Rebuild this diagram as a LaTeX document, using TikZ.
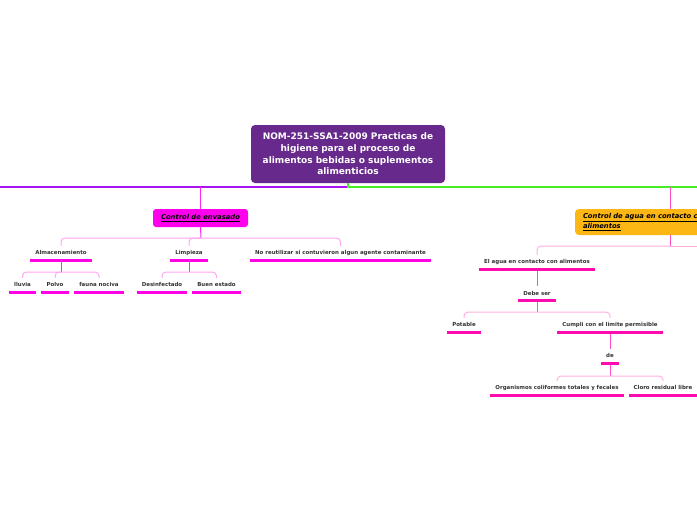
\documentclass[tikz,border=0pt]{standalone}
\usepackage{fontspec}
\setmainfont{DejaVu Sans}
\usetikzlibrary{calc}
\definecolor{rootc}{HTML}{68298C}
\definecolor{violetl}{HTML}{A614F2}
\definecolor{greenl}{HTML}{44EE22}
\definecolor{envc}{HTML}{FF00EE}
\definecolor{aguac}{HTML}{FDB714}
\definecolor{vertL}{HTML}{FF2AF2}
\definecolor{barLc}{HTML}{FFA6F4}
\definecolor{ulLc}{HTML}{FF00E8}
\definecolor{vertR}{HTML}{FF4CC8}
\definecolor{barRc}{HTML}{FFB2E2}
\definecolor{ulRc}{HTML}{FF0AAE}
\definecolor{lblc}{HTML}{333333}
\tikzset{
  rootbox/.style={fill=rootc, rounded corners=4pt, text=white, inner sep=0pt,
    font=\bfseries\fontsize{9}{11.6}\selectfont, align=center,
    minimum width=194pt, minimum height=58pt},
  envbox/.style={fill=envc, rounded corners=3pt, text=black, inner sep=0pt,
    font=\bfseries\itshape\fontsize{6.8}{8.4}\selectfont,
    minimum width=95pt, minimum height=18pt},
  aguabox/.style={fill=aguac, rounded corners=4pt, text=black, inner xsep=8pt, inner ysep=0pt,
    font=\bfseries\itshape\fontsize{6.8}{8.4}\selectfont, align=left,
    text width=174pt, minimum height=26pt},
  lbl/.style={font=\bfseries\fontsize{5.45}{6.5}\selectfont, text=lblc, inner sep=0pt,
    text height=4pt, text depth=1pt, minimum height=14pt},
  topV/.style={draw=violetl, line width=2.4pt},
  topG/.style={draw=greenl, line width=2.4pt},
  vL/.style={draw=vertL, line width=1pt},
  bL/.style={draw=barLc, line width=1pt, rounded corners=4pt},
  uL/.style={draw=ulLc, line width=2.6pt},
  vR/.style={draw=vertR, line width=1pt},
  bR/.style={draw=barRc, line width=1pt, rounded corners=4pt},
  uR/.style={draw=ulRc, line width=2.6pt}
}
\begin{document}
\begin{tikzpicture}[x=1pt,y=-1pt]
\clip (0,0) rectangle (697,520);
\fill[white] (0,0) rectangle (697,520);

% root
\node[rootbox] (root) at (348,154) {NOM-251-SSA1-2009 Practicas de\\higiene para el proceso de\\alimentos bebidas o suplementos\\alimenticios};
\coordinate (Lend) at (0,187);
\coordinate (Rend) at (697,187);
\draw[topV] (Lend) -- (root.south |- Lend);
\draw[topG] (root.south) -- (root.south |- Rend) -- (Rend);

% ---------- left branch ----------
\node[envbox] (env) at (200.5,218) {\underline{Control de envasado}};
\draw[vL] (env.north |- Lend) -- (env.north);
\coordinate (b1) at (201,238);
\draw[vL] (env.south) -- (b1);

\node[lbl, minimum width=62pt] (alm) at (61,253) {Almacenamiento};
\node[lbl, minimum width=38pt] (limp) at (189,253) {Limpieza};
\node[lbl, minimum width=181pt] (noreu) at (340.5,253) {No reutilizar si contuvieron algun agente contaminante};
\draw[bL] (b1) -| (alm.north);
\draw[bL] (b1) -| (limp.north);
\draw[bL] (b1) -| (noreu.north);
\foreach \n in {alm,limp,noreu} \draw[uL] (\n.south west) -- (\n.south east);

\node[lbl, minimum width=27pt] (lluvia) at (22.5,285) {lluvia};
\node[lbl, minimum width=28pt] (polvo) at (55,285) {Polvo};
\node[lbl, minimum width=50pt] (fauna) at (99,285) {fauna nociva};
\coordinate (b2) at (61,272);
\draw[vL] (alm.south) -- (b2);
\draw[bL] (b2) -| (lluvia.north);
\draw[bL] (b2) -| (polvo.north);
\draw[bL] (b2) -| (fauna.north);

\node[lbl, minimum width=50pt] (desinf) at (162,285) {Desinfectado};
\node[lbl, minimum width=49pt] (buen) at (216.5,285) {Buen estado};
\coordinate (b3) at (189,272);
\draw[vL] (limp.south) -- (b3);
\draw[bL] (b3) -| (desinf.north);
\draw[bL] (b3) -| (buen.north);
\foreach \n in {lluvia,polvo,fauna,desinf,buen} \draw[uL] (\n.south west) -- (\n.south east);

% ---------- right branch ----------
\node[aguabox] (agua) at (670,222) {\underline{Control de agua en contacto con}\\\underline{alimentos}};
\draw[vR] (agua.north |- Rend) -- (agua.north);
\coordinate (r1) at (670,246);
\coordinate (offR) at (720,246);
\draw[vR] (agua.south) -- (r1);

\node[lbl, minimum width=116pt] (elagua) at (537,262) {El agua en contacto con alimentos};
\draw[bR] (r1) -| (elagua.north);
\draw[bR] (r1) -- (offR);

\node[lbl, minimum width=38pt] (debe) at (537,293.5) {Debe ser};
\draw[vR] (elagua.south) -- (debe.north);

\node[lbl, minimum width=34pt] (potable) at (464,325) {Potable};
\node[lbl, minimum width=106pt] (cumpli) at (610,325) {Cumpli con el limite permisible};
\coordinate (r2) at (537,312);
\draw[vR] (debe.south) -- (r2);
\draw[bR] (r2) -| (potable.north);
\draw[bR] (r2) -| (cumpli.north);

\node[lbl, minimum width=18pt] (de) at (610,356) {de};
\draw[vR] (cumpli.south) -- (de.north);

\node[lbl, minimum width=134pt] (orgs) at (557,388) {Organismos coliformes totales y fecales};
\node[lbl, minimum width=68pt] (cloro) at (663,388) {Cloro residual libre};
\coordinate (r3) at (610,376);
\draw[vR] (de.south) -- (r3);
\draw[bR] (r3) -| (orgs.north);
\draw[bR] (r3) -| (cloro.north);

\foreach \n in {elagua,debe,potable,cumpli,de,orgs,cloro} \draw[uR] (\n.south west) -- (\n.south east);
\end{tikzpicture}
\end{document}
